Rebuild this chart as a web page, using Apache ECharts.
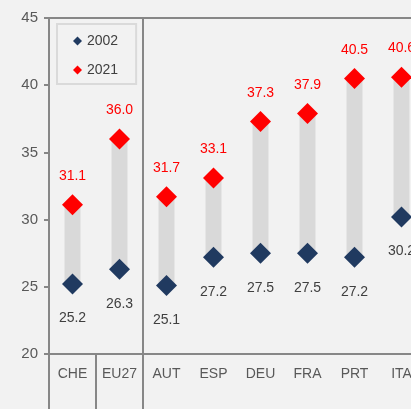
<!DOCTYPE html>
<html>
<head>
<meta charset="utf-8">
<script src="https://cdn.jsdelivr.net/npm/echarts@6/dist/echarts.min.js"></script>
<style>
html,body{margin:0;padding:0;background:#f2f2f2;}
#main{width:411px;height:409px;}
</style>
</head>
<body>
<div id="main"></div>
<script>
var countries = ['CHE', 'EU27', 'AUT', 'ESP', 'DEU', 'FRA', 'PRT', 'ITA'];
var v2002 = [25.2, 26.3, 25.1, 27.2, 27.5, 27.5, 27.2, 30.2];
var v2021 = [31.1, 36.0, 31.7, 33.1, 37.3, 37.9, 40.5, 40.6];
var yTicks = [20, 25, 30, 35, 40, 45];

// 范围条：透明底 + 灰色差值
var gap = [];
for (var i = 0; i < countries.length; i++) {
    gap.push(+(v2021[i] - v2002[i]).toFixed(1));
}

var myChart = echarts.init(document.getElementById('main'));
var font = '"Liberation Sans", Arial, sans-serif';
var lineColor = '#878787';

myChart.setOption({
    backgroundColor: '#f2f2f2',
    animation: false,
    textStyle: {fontFamily: font},
    grid: {left: 49, top: 18, height: 336, width: 376, outerBoundsMode: 'none'},
    legend: {
        orient: 'vertical',
        left: 57, top: 24,
        padding: [10, 18, 7, 16],
        itemGap: 15,
        itemWidth: 9, itemHeight: 9,
        borderColor: '#dadada', borderWidth: 2,
        textStyle: {fontSize: 14, color: '#404040', fontFamily: font},
        data: [{name: '2002', icon: 'diamond'}, {name: '2021', icon: 'diamond'}]
    },
    xAxis: {
        type: 'category',
        data: countries,
        axisLine: {lineStyle: {color: lineColor, width: 2}},
        axisTick: {show: false},
        axisLabel: {color: '#595959', fontSize: 14, margin: 13, interval: 0, fontFamily: font}
    },
    yAxis: {
        type: 'value',
        min: yTicks[0], max: yTicks[yTicks.length - 1], interval: 5,
        axisLine: {show: true, lineStyle: {color: lineColor, width: 2}},
        axisTick: {show: true, length: 5, lineStyle: {color: lineColor, width: 2}},
        axisLabel: {color: '#595959', fontSize: 15, margin: 11, fontFamily: font},
        splitLine: {show: false}
    },
    series: [
        {
            type: 'bar', stack: 'r', barWidth: 16, silent: true,
            itemStyle: {color: 'transparent'},
            data: v2002
        },
        {
            type: 'bar', stack: 'r', barWidth: 16, silent: true,
            itemStyle: {color: '#d9d9d9'},
            data: gap
        },
        {
            name: '2002', type: 'scatter', symbol: 'diamond', symbolSize: 21,
            itemStyle: {color: '#203a60', opacity: 1},
            label: {
                show: true, position: 'bottom', distance: 17,
                color: '#404040', fontSize: 14, fontFamily: font,
                formatter: function (p) { return p.value.toFixed(1); }
            },
            data: v2002
        },
        {
            name: '2021', type: 'scatter', symbol: 'diamond', symbolSize: 21,
            itemStyle: {color: '#ff0000', opacity: 1},
            label: {
                show: true, position: 'top', distance: 11,
                color: '#ff0000', fontSize: 14, fontFamily: font,
                formatter: function (p) { return p.value.toFixed(1); }
            },
            data: v2021
        }
    ]
});

// 分隔线（按坐标轴换算位置）
var xa = myChart.convertToPixel({xAxisIndex: 0}, 'CHE');
var xb = myChart.convertToPixel({xAxisIndex: 0}, 'EU27');
var band = xb - xa;
var yTop = myChart.convertToPixel({yAxisIndex: 0}, 45);
var yBot = myChart.convertToPixel({yAxisIndex: 0}, 20);
var ls = {stroke: lineColor, lineWidth: 2};
myChart.setOption({
    graphic: [
        {type: 'line', shape: {x1: xa - band / 2 - 5, y1: yTop, x2: 411, y2: yTop}, style: ls},
        {type: 'line', shape: {x1: xa - band / 2, y1: yBot, x2: xa - band / 2, y2: 409}, style: ls},
        {type: 'line', shape: {x1: xa + band / 2, y1: yBot, x2: xa + band / 2, y2: 409}, style: ls},
        {type: 'line', shape: {x1: xb + band / 2, y1: yTop, x2: xb + band / 2, y2: 409}, style: ls}
    ]
});
</script>
</body>
</html>
